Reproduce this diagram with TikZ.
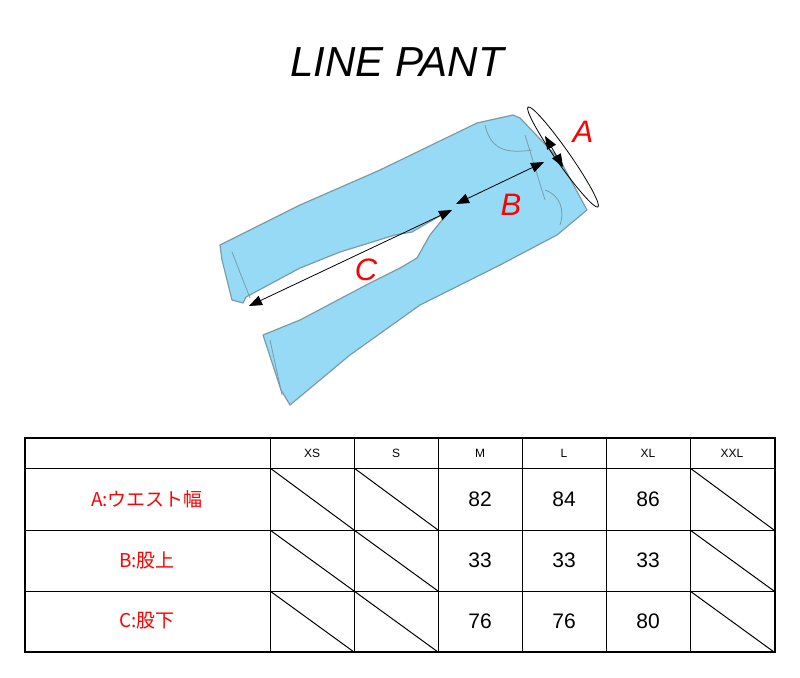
\documentclass[tikz,border=0pt]{standalone}
\usepackage{fontspec}
\setmainfont{Liberation Sans}
\newfontfamily\jp{Noto Sans CJK JP}
\usetikzlibrary{arrows.meta}
\definecolor{jean}{HTML}{96DAF6}
\definecolor{seam}{HTML}{7A9CA8}
\tikzset{
  pant/.style={fill=jean,draw=seam,line width=1.2pt,line join=round},
  meas/.style={draw=black,line width=0.8pt,{Triangle[length=13pt,width=10pt]}-{Triangle[length=13pt,width=10pt]}},
  lbl/.style={text=red,font=\itshape\fontsize{31}{31}\selectfont},
  hdr/.style={font=\fontsize{12}{12}\selectfont},
  num/.style={font=\fontsize{21}{21}\selectfont},
  rowlbl/.style={text=red,font=\jp\fontsize{19}{19}\selectfont},
}
\begin{document}
\begin{tikzpicture}[x=1pt,y=-1pt]
\useasboundingbox (0,0) rectangle (800,677);
\node[font=\itshape\fontsize{42}{42}\selectfont] (title) at (397,62) {LINE PANT};
% pants
\path[pant] (450,210) -- (412,232) -- (395,235) -- (340,252) -- (300,268) -- (246,297) -- (243,303) -- (232,300) -- (222,260) -- (220,245)
 -- (300,205) -- (380,170) -- (477,123) -- (513,115) -- (520,118) -- (560,160) -- (587,210) -- (557,235) -- (500,265) -- (420,305) -- (350,355) -- (290,405) -- (281,390) -- (263,335)
 -- (300,320) -- (370,283) -- (400,268) -- (417,258) -- (430,235) -- cycle;
\draw[seam,line width=0.8pt] (250,298) -- (232,252);
\draw[seam,line width=0.8pt] (282,395) -- (270,340);
\draw[seam,line width=0.8pt] (485,125) .. controls (490,145) and (500,155) .. (532,150);
\draw[seam,line width=0.8pt] (525,135) -- (545,200);
\draw[seam,line width=0.8pt] (545,190) .. controls (560,195) and (565,210) .. (560,225);
% measurements
\draw[line width=0.8pt,rotate around={-55:(563,157)}] (563,157) ellipse (61 and 7);
\coordinate (a1) at (545,136);
\coordinate (a2) at (563,167);
\draw[meas] (a1) -- (a2);
\node[lbl] (A) at (583,132) {A};
\coordinate (b1) at (544,162);
\coordinate (b2) at (456,204);
\draw[meas] (b1) -- (b2);
\node[lbl] (B) at (511,205) {B};
\coordinate (c1) at (452,210);
\coordinate (c2) at (249,306);
\draw[meas] (c1) -- (c2);
\node[lbl] (C) at (366,270) {C};
% table
\draw[line width=1.2pt] (25,438) rectangle (775,652);
\foreach \y in {468,530,591} \draw[line width=1pt] (25,\y) -- (775,\y);
\foreach \x in {270,354,438,522,606,690} \draw[line width=1pt] (\x,438) -- (\x,652);
\foreach \t [count=\i from 0] in {XS,S,M,L,XL,XXL}
  \node[hdr] (h\i) at ({312+84*\i},453) {\t};
\node[rowlbl] (r1) at (147,499) {A:ウエスト幅};
\node[rowlbl] (r2) at (147,560) {B:股上};
\node[rowlbl] (r3) at (147,621) {C:股下};
\foreach \ya/\yb in {468/530,530/591,591/652}{
  \foreach \x in {270,354,690} \draw[line width=1pt] (\x,\ya) -- (\x+84,\yb);
}
\node[num] at (480,499) {82}; \node[num] at (564,499) {84}; \node[num] at (648,499) {86};
\node[num] at (480,560) {33}; \node[num] at (564,560) {33}; \node[num] at (648,560) {33};
\node[num] at (480,621) {76}; \node[num] at (564,621) {76}; \node[num] at (648,621) {80};
\end{tikzpicture}
\end{document}
